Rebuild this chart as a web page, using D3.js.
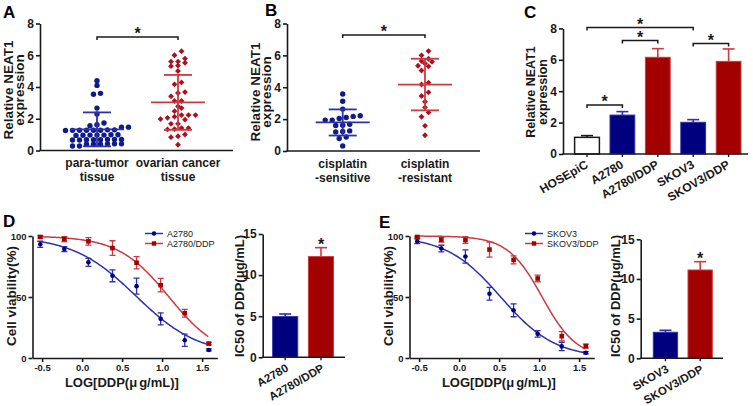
<!DOCTYPE html>
<html>
<head>
<meta charset="utf-8">
<script src="https://cdn.jsdelivr.net/npm/d3@7"></script>
<style>
  body { margin: 0; background: #fff; }
  svg { font-family: Arial, "Liberation Sans", sans-serif; display: block; }
</style>
</head>
<body>
<svg id="chart" width="753" height="406"></svg>
<script>
// ---- data ----
// A: NEAT1 in tissue
const groupsA = ['para-tumor|tissue', 'ovarian cancer|tissue']
const paraTumor = [4.40, 4.10, 3.60, 3.54, 2.67, 2.30, 1.73, 1.62, 1.56, 1.47, 1.47,
  1.30, 1.28, 1.28, 1.27, 1.28, 1.30, 1.26, 1.28, 0.99, 0.97, 0.97, 0.95, 0.97, 0.99, 0.96,
  0.70, 0.68, 0.68, 0.66, 0.66, 0.68, 0.70, 0.70, 0.42, 0.40, 0.40, 0.40, 0.42, 0.42, 0.28, 0.28]
const ovarianCancer = [6.25, 6.0, 5.79, 5.6, 5.52, 5.6, 5.31, 5.35, 5.01, 4.29, 4.17, 3.68,
  3.62, 3.41, 3.12, 3.12, 2.78, 2.67, 2.48, 2.23, 2.23, 2.23, 2.13, 2.06, 1.98, 1.94, 1.68,
  1.68, 1.41, 1.41, 1.35, 1.33, 1.01, 0.90, 0.84, 0.36]
const meanA = [1.33, 3.03]
const sdA = [1.07, 1.73]

// B: NEAT1 by cisplatin response
const groupsB = ['cisplatin|-sensitive', 'cisplatin|-resistant']
const sensitive = [3.58, 3.12, 2.63, 2.21, 2.17, 2.10, 2.04, 1.94, 1.94, 1.68, 1.62, 1.60,
  1.26, 1.22, 1.20, 0.88, 0.78, 0.32]
const resistant = [6.27, 6.0, 5.79, 5.64, 5.6, 5.49, 5.35, 5.31, 5.05, 4.29, 4.17, 3.68,
  3.45, 3.09, 2.74, 2.42, 2.15, 1.58, 0.99]
const meanB = [1.79, 4.17]
const sdB = [0.82, 1.62]

// C: cell lines
const cellLines = ['HOSEpiC', 'A2780', 'A2780/DDP', 'SKOV3', 'SKOV3/DDP']
const neat1 = [1.06, 2.48, 6.16, 2.02, 5.90]
const neat1Err = [0.11, 0.22, 0.55, 0.17, 0.79]
const sigC = [[0, 3], [1, 2], [3, 4], [0, 1]]

// D / E: viability curves
const logDose = [-0.523, -0.222, 0.079, 0.380, 0.681, 0.982, 1.283, 1.584]
const a2780 = [93.2, 89.3, 78.4, 67.4, 58.9, 32.1, 14.5, 6.6]
const a2780Err = [2.5, 2.0, 3.3, 4.9, 6.6, 4.9, 5.0, 0.8]
const a2780ddp = [99.2, 97.5, 95.6, 90.1, 78.1, 59.7, 36.7, 11.8]
const a2780ddpErr = [1.0, 2.0, 3.0, 6.0, 5.0, 5.5, 3.2, 1.0]
const skov3 = [95.7, 89.7, 83.2, 52.7, 39.1, 19.8, 9.5, 4.3]
const skov3Err = [2.0, 2.7, 5.4, 5.2, 5.3, 2.7, 3.4, 1.0]
const skov3ddp = [99.2, 97.0, 96.7, 88.9, 80.4, 65.2, 17.9, 9.8]
const skov3ddpErr = [0.8, 2.0, 2.7, 6.2, 3.3, 2.7, 3.8, 1.6]
// fitted curve params: [top, bottom, logIC50, hill]
const fitA2780 = [100, 2, 0.67, 1.1]
const fitA2780ddp = [100, 0, 1.086, 1.37]
const fitSkov3 = [100, 0, 0.52, 1.28]
const fitSkov3ddp = [100, 0, 1.038, 2.02]

// IC50 bars
const ic50D = [4.95, 12.25], ic50DErr = [0.32, 1.09]
const ic50E = [3.28, 11.13], ic50EErr = [0.25, 1.05]

// ---- drawing ----
const svg = d3.select('#chart')
const ink = '#1a1a1a'
const BLUE = '#00007f', RED = '#a30000'
const BLUE_L = '#3030a8', RED_L = '#cc3a40'
const DOT_BLUE = '#0d1b8c', DOT_RED = '#ad0f1f'

function styleAxis(g, size) {
  g.attr('font-family', null).attr('font-size', null)
  g.select('.domain').attr('stroke', ink).attr('stroke-width', 1.6)
  g.selectAll('.tick line').attr('stroke', ink).attr('stroke-width', 1.6)
  g.selectAll('.tick text').attr('fill', ink).attr('font-size', size).attr('font-weight', 'bold')
}

function panelLetter(t, x, y) {
  svg.append('text').attr('x', x).attr('y', y).attr('font-size', 17).attr('font-weight', 'bold')
    .attr('fill', '#000').text(t)
}

function vLabel(lines, x, cy, size) {
  lines.forEach((l, i) => {
    svg.append('text').attr('transform', `translate(${x[i]},${cy}) rotate(-90)`)
      .attr('text-anchor', 'middle').attr('font-size', size).attr('font-weight', 'bold')
      .attr('fill', ink).text(l)
  })
}

function star(cx, base) {
  svg.append('text').attr('x', cx).attr('y', base).attr('text-anchor', 'middle')
    .attr('font-size', 16).attr('font-weight', 'bold').attr('fill', ink).text('*')
}

function bracket(x1, x2, yb) {
  svg.append('path').attr('d', `M${x1},${yb + 3}V${yb}H${x2}V${yb + 3}`)
    .attr('fill', 'none').attr('stroke', ink).attr('stroke-width', 1.5)
  star((x1 + x2) / 2, yb + 2)
}

// lay points out in horizontal rows, like a scatter dot plot
function swarm(values, y, spacing) {
  const pts = values.map(v => ({ v, py: y(v) })).sort((a, b) => b.py - a.py)
  const rows = []
  let row = []
  pts.forEach(p => {
    if (row.length && Math.abs(p.py - row[0].py) > 4.5) { rows.push(row); row = [] }
    row.push(p)
  })
  if (row.length) rows.push(row)
  rows.forEach(r => r.forEach((p, i) => { p.dx = (i - (r.length - 1) / 2) * spacing }))
  return pts
}

function scatterPanel(o) {
  const y = d3.scaleLinear().domain([0, 8]).range([o.bottom, o.top])
  const x = d3.scalePoint().domain(o.groups).range(o.centers)
  const gy = svg.append('g').attr('transform', `translate(${o.axisX},0)`)
    .call(d3.axisLeft(y).tickValues([0, 2, 4, 6, 8]).tickSize(4).tickSizeOuter(0).tickPadding(2))
  styleAxis(gy, 12)
  svg.append('line').attr('x1', o.axisX - 0.8).attr('x2', o.axisEnd).attr('y1', o.bottom).attr('y2', o.bottom)
    .attr('stroke', ink).attr('stroke-width', 1.6)

  o.series.forEach((vals, i) => {
    const cx = x(o.groups[i])
    const pts = swarm(vals, y, 7)
    const g = svg.append('g')
    if (i === 0) {
      g.selectAll('circle').data(pts).join('circle')
        .attr('cx', d => cx + d.dx).attr('cy', d => d.py).attr('r', 2.7).attr('fill', DOT_BLUE)
    } else {
      g.selectAll('path').data(pts).join('path')
        .attr('d', d3.symbol(d3.symbolSquare, 17))
        .attr('transform', d => `translate(${cx + d.dx},${d.py}) rotate(45)`).attr('fill', DOT_RED)
    }
    const col = i === 0 ? BLUE_L : RED_L
    const m = o.means[i], s = o.sds[i]
    const ls = svg.append('g').attr('stroke', col).attr('stroke-width', 1.8)
    ls.append('line').attr('x1', cx).attr('x2', cx).attr('y1', y(m - s)).attr('y2', y(m + s))
    ls.append('line').attr('x1', cx - 27).attr('x2', cx + 27).attr('y1', y(m)).attr('y2', y(m))
    ;[m - s, m + s].forEach(v => ls.append('line').attr('x1', cx - 14).attr('x2', cx + 14)
      .attr('y1', y(v)).attr('y2', y(v)))

    o.groups[i].split('|').forEach((t, k) => {
      svg.append('text').attr('x', cx).attr('y', o.labelY + k * 14).attr('text-anchor', 'middle')
        .attr('font-size', 12).attr('font-weight', 'bold').attr('fill', ink).text(t)
    })
  })
  bracket(o.centers[0], o.centers[1], o.bracketY)
}

function barColor(c) {
  if (c === 'HOSEpiC') return ['#fff', ink]
  return c.includes('/DDP') ? [RED, RED_L] : [BLUE, BLUE_L]
}

function barPanel(o) {
  const x = d3.scaleBand().domain(o.cats).range(o.xr).paddingInner(0.3).paddingOuter(0.15)
  const y = d3.scaleLinear().domain([0, o.max]).range([o.bottom, o.top])
  const gy = svg.append('g').attr('transform', `translate(${o.axisX},0)`)
    .call(d3.axisLeft(y).tickValues(o.ticks).tickSize(4).tickSizeOuter(0).tickPadding(2))
  styleAxis(gy, 12)

  o.cats.forEach((c, i) => {
    const [fill, edge] = barColor(c)
    const bx = x(c), cx = bx + x.bandwidth() / 2
    svg.append('line').attr('x1', cx).attr('x2', cx).attr('y1', y(o.vals[i])).attr('y2', y(o.vals[i] + o.errs[i]))
      .attr('stroke', edge).attr('stroke-width', 1.6)
    svg.append('line').attr('x1', cx - 6).attr('x2', cx + 6)
      .attr('y1', y(o.vals[i] + o.errs[i])).attr('y2', y(o.vals[i] + o.errs[i]))
      .attr('stroke', edge).attr('stroke-width', 1.6)
    svg.append('rect').attr('x', bx).attr('y', y(o.vals[i])).attr('width', x.bandwidth())
      .attr('height', o.bottom - y(o.vals[i])).attr('fill', fill)
      .attr('stroke', edge).attr('stroke-width', c === 'HOSEpiC' ? 1.5 : 1)
    svg.append('line').attr('x1', cx).attr('x2', cx).attr('y1', o.bottom).attr('y2', o.bottom + 3)
      .attr('stroke', ink).attr('stroke-width', 1.4)
    svg.append('text').attr('transform', `translate(${cx + o.labDx},${o.bottom + 13}) rotate(-30)`)
      .attr('text-anchor', 'end').attr('font-size', o.labSize).attr('font-weight', 'bold').attr('fill', ink).text(c)
  })
  svg.append('line').attr('x1', o.axisX - 0.8).attr('x2', o.axisEnd).attr('y1', o.bottom).attr('y2', o.bottom)
    .attr('stroke', ink).attr('stroke-width', 1.6)
  return { x, y }
}

function fourPL(p) {
  return v => p[1] + (p[0] - p[1]) / (1 + Math.pow(10, (v - p[2]) * p[3]))
}

function curvePanel(o) {
  const x = d3.scaleLinear().domain([-0.62, 1.69]).range([o.x0, o.x1])
  const y = d3.scaleLinear().domain([0, 100]).range([358, 236])
  const gx = svg.append('g').attr('transform', 'translate(0,358)')
    .call(d3.axisBottom(x).tickValues([-0.5, 0, 0.5, 1, 1.5]).tickFormat(d3.format('.1f'))
      .tickSize(4).tickSizeOuter(0).tickPadding(2))
  styleAxis(gx, 9.5)
  gx.selectAll('.tick text').text(d => d3.format('.1f')(d).replace('−', '-'))
  const gy = svg.append('g').attr('transform', `translate(${o.x0},0)`)
    .call(d3.axisLeft(y).tickValues([0, 50, 100]).tickSize(4).tickSizeOuter(0).tickPadding(2))
  styleAxis(gy, 9.5)

  const xs = d3.range(logDose[0], logDose[logDose.length - 1] + 0.001, 0.01)
  o.series.forEach((s, k) => {
    const col = k === 0 ? BLUE_L : RED_L
    const f = fourPL(s.fit)
    svg.append('path').attr('d', d3.line().x(v => x(v)).y(v => y(f(v)))(xs))
      .attr('fill', 'none').attr('stroke', col).attr('stroke-width', 1.5)
    const g = svg.append('g')
    logDose.forEach((d, i) => {
      const cx = x(d), hi = y(s.vals[i] + s.errs[i]), lo = y(s.vals[i] - s.errs[i])
      g.append('path').attr('d', `M${cx - 3},${hi}H${cx + 3}M${cx},${hi}V${lo}M${cx - 3},${lo}H${cx + 3}`)
        .attr('stroke', col).attr('stroke-width', 1.3).attr('fill', 'none')
    })
    if (k === 0) {
      g.selectAll('circle').data(logDose).join('circle').attr('cx', d => x(d))
        .attr('cy', (d, i) => y(s.vals[i])).attr('r', 2.3).attr('fill', BLUE)
    } else {
      g.selectAll('rect').data(logDose).join('rect').attr('x', d => x(d) - 2.3)
        .attr('y', (d, i) => y(s.vals[i]) - 2.3).attr('width', 4.6).attr('height', 4.6).attr('fill', RED)
    }
    // legend
    const ly = 233.5 + k * 10
    svg.append('line').attr('x1', o.legX).attr('x2', o.legX + 18).attr('y1', ly).attr('y2', ly)
      .attr('stroke', col).attr('stroke-width', 1.5)
    if (k === 0) svg.append('circle').attr('cx', o.legX + 9).attr('cy', ly).attr('r', 2.2).attr('fill', BLUE)
    else svg.append('rect').attr('x', o.legX + 6.8).attr('y', ly - 2.2).attr('width', 4.4).attr('height', 4.4).attr('fill', RED)
    svg.append('text').attr('x', o.legX + 22).attr('y', ly + 3.3).attr('font-size', 9).attr('fill', ink).text(s.name)
  })

  const xl = svg.append('text').attr('x', (o.x0 + o.x1) / 2 - 3).attr('y', 387).attr('text-anchor', 'middle')
    .attr('font-size', 13).attr('font-weight', 'bold').attr('fill', ink)
  xl.append('tspan').text('LOG[DDP(μ')
  xl.append('tspan').attr('dx', 2).text('g/mL)]')
  vLabel(['Cell viability(%)'], [o.yLabX], 296, 13.5)
}

// A
panelLetter('A', 3, 18)
vLabel(['Relative NEAT1', 'expression'], [13, 24], 90, 13.5)
scatterPanel({ groups: groupsA, series: [paraTumor, ovarianCancer], means: meanA, sds: sdA,
  axisX: 40, axisEnd: 233, top: 23.5, bottom: 150.5, centers: [97, 178], labelY: 167, bracketY: 37 })

// B
panelLetter('B', 265, 16)
vLabel(['Relative NEAT1', 'expression'], [260, 271], 92, 13.5)
scatterPanel({ groups: groupsB, series: [sensitive, resistant], means: meanB, sds: sdB,
  axisX: 287, axisEnd: 480, top: 23.5, bottom: 151, centers: [342.7, 425], labelY: 168, bracketY: 35 })

// C
panelLetter('C', 524, 18)
vLabel(['Relative NEAT1', 'expression'], [535, 547], 92, 12.5)
const c = barPanel({ cats: cellLines, vals: neat1, errs: neat1Err, xr: [569.3, 746.3], max: 8,
  ticks: [0, 2, 4, 6, 8], top: 28.4, bottom: 154, axisX: 563, axisEnd: 748, labDx: 2, labSize: 12 })
const bracketYC = [27.5, 40.5, 43.5, 105]
sigC.forEach((p, i) => {
  const x1 = c.x(cellLines[p[0]]) + c.x.bandwidth() / 2
  const x2 = c.x(cellLines[p[1]]) + c.x.bandwidth() / 2
  bracket(x1, x2, bracketYC[i])
})

// D
panelLetter('D', 3, 227)
curvePanel({ x0: 32.5, x1: 217.3, legX: 145, yLabX: 16,
  series: [{ name: 'A2780', vals: a2780, errs: a2780Err, fit: fitA2780 },
           { name: 'A2780/DDP', vals: a2780ddp, errs: a2780ddpErr, fit: fitA2780ddp }] })
const dBar = barPanel({ cats: ['A2780', 'A2780/DDP'], vals: ic50D, errs: ic50DErr, xr: [267.3, 338.9], max: 15,
  ticks: [0, 5, 10, 15], top: 234, bottom: 357.3, axisX: 262.7, axisEnd: 345, labDx: 4, labSize: 11.5 })
star(dBar.x('A2780/DDP') + dBar.x.bandwidth() / 2, dBar.y(ic50D[1] + ic50DErr[1]) + 2)
vLabel(['IC50 of DDP(μg/mL)'], [244], 296, 13)

// E
panelLetter('E', 379, 228)
curvePanel({ x0: 409.5, x1: 594.3, legX: 525, yLabX: 393,
  series: [{ name: 'SKOV3', vals: skov3, errs: skov3Err, fit: fitSkov3 },
           { name: 'SKOV3/DDP', vals: skov3ddp, errs: skov3ddpErr, fit: fitSkov3ddp }] })
const eBar = barPanel({ cats: ['SKOV3', 'SKOV3/DDP'], vals: ic50E, errs: ic50EErr, xr: [648.1, 717.5], max: 15,
  ticks: [0, 5, 10, 15], top: 239.3, bottom: 358.3, axisX: 640.7, axisEnd: 723, labDx: 4, labSize: 11.5 })
star(eBar.x('SKOV3/DDP') + eBar.x.bandwidth() / 2, eBar.y(ic50E[1] + ic50EErr[1]) + 2)
vLabel(['IC50 of DDP(μg/mL)'], [620], 296, 13)
</script>
</body>
</html>
